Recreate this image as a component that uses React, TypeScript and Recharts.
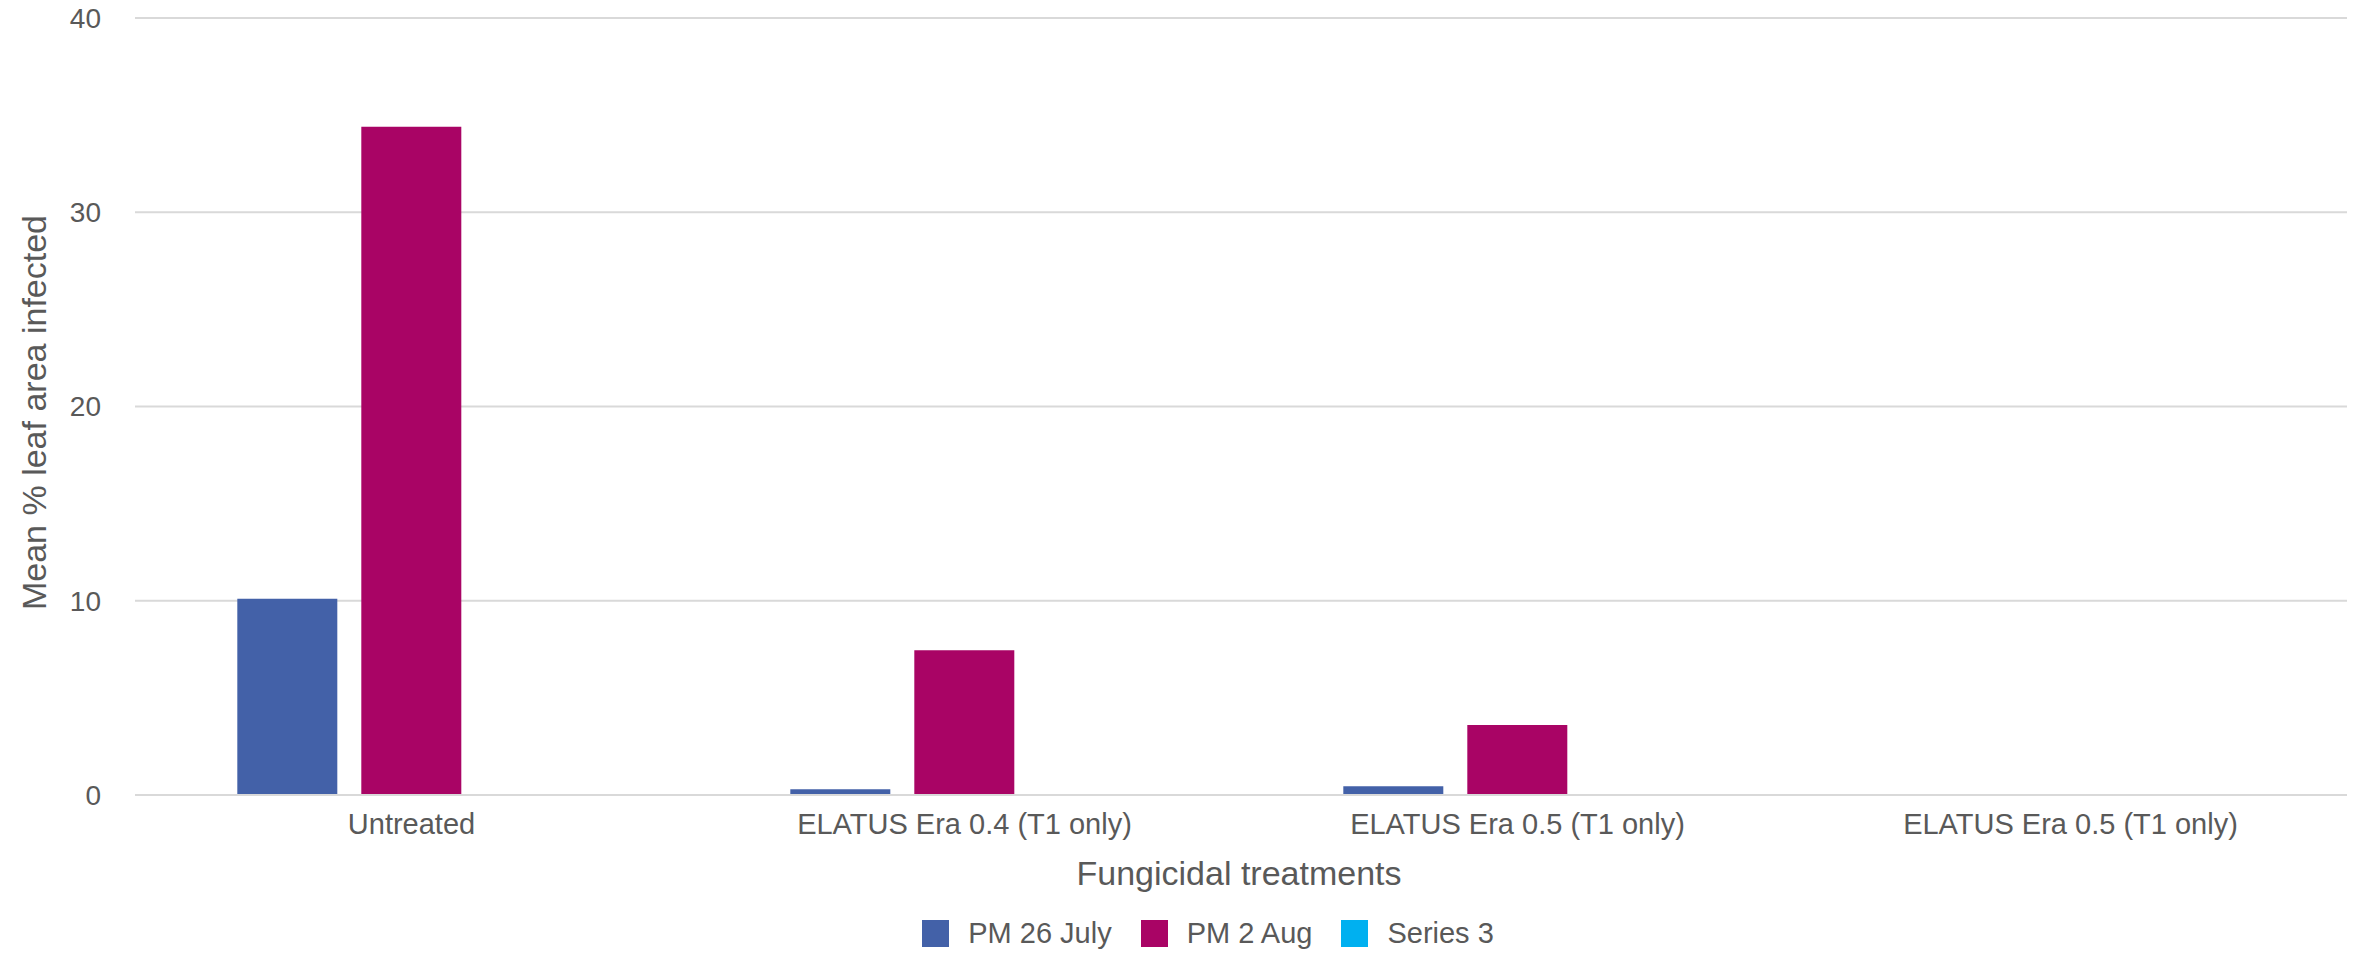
import {
  BarChart,
  Bar,
  XAxis,
  YAxis,
  CartesianGrid,
  Legend,
  Label,
} from "recharts";

const categories = [
  "Untreated",
  "ELATUS Era 0.4 (T1 only)",
  "ELATUS Era 0.5 (T1 only)",
  "ELATUS Era 0.5 (T1 only)",
];
const pm26July = [10.1, 0.3, 0.45, null];
const pm2Aug = [34.4, 7.45, 3.6, null];
const series3 = [null, null, null, null];
const yTicks = [0, 10, 20, 30, 40];

const seriesInfo = [
  { key: "pm26", name: "PM 26 July", color: "#4361A8" },
  { key: "pm2", name: "PM 2 Aug", color: "#A90465" },
  { key: "s3", name: "Series 3", color: "#00B0F0" },
];

const data = categories.map((c, i) => ({
  name: c,
  pm26: pm26July[i],
  pm2: pm2Aug[i],
  s3: series3[i],
}));

const FONT = "'Liberation Sans', Arial, sans-serif";
const TEXT = "#595959";
const GRID = "#D9D9D9";

// custom legend so spacing matches the source
const renderLegend = () => (
  <div
    style={{
      display: "flex",
      justifyContent: "center",
      alignItems: "center",
      height: 27,
      paddingLeft: 55,
      fontFamily: FONT,
      fontSize: 29,
      color: TEXT,
    }}
  >
    {seriesInfo.map((s, i) => (
      <div
        key={s.key}
        style={{
          display: "flex",
          alignItems: "center",
          marginRight: i < seriesInfo.length - 1 ? 29 : 0,
        }}
      >
        <span
          style={{
            display: "inline-block",
            width: 27,
            height: 27,
            background: s.color,
            marginRight: 19,
          }}
        />
        <span style={{ lineHeight: "27px" }}>{s.name}</span>
      </div>
    ))}
  </div>
);

export default function App() {
  return (
    <div style={{ position: "absolute", left: 0, top: 0, background: "#fff" }}>
      <BarChart
        width={2361}
        height={953}
        data={data}
        margin={{ top: 18, right: 14, bottom: 6, left: 0 }}
        barCategoryGap="18.5%"
        barGap={24}
      >
        <CartesianGrid stroke={GRID} strokeWidth={2} vertical={false} />
        <XAxis
          dataKey="name"
          height={125}
          axisLine={{ stroke: GRID, strokeWidth: 2 }}
          tickLine={false}
          tickSize={0}
          tickMargin={18}
          tick={{ fill: TEXT, fontSize: 29, fontFamily: FONT }}
          interval={0}
        >
          <Label
            content={(props: any) => {
              const vb = props.viewBox || {};
              return (
                <text
                  x={vb.x + vb.width / 2 - 2}
                  y={vb.y + 90}
                  textAnchor="middle"
                  fill={TEXT}
                  fontSize={34}
                  fontFamily={FONT}
                >
                  Fungicidal treatments
                </text>
              );
            }}
          />
        </XAxis>
        <YAxis
          width={135}
          domain={[0, 40]}
          ticks={yTicks}
          axisLine={false}
          tickLine={false}
          tickSize={0}
          tickMargin={34}
          tick={{ fill: TEXT, fontSize: 28, fontFamily: FONT }}
        >
          <Label
            content={(props: any) => {
              const vb = props.viewBox || {};
              const cx = 46;
              const cy = vb.y + vb.height / 2 + 6;
              return (
                <text
                  x={cx}
                  y={cy}
                  transform={`rotate(-90, ${cx}, ${cy})`}
                  textAnchor="middle"
                  fill={TEXT}
                  fontSize={34}
                  fontFamily={FONT}
                >
                  Mean % leaf area infected
                </text>
              );
            }}
          />
        </YAxis>
        <Legend
          verticalAlign="bottom"
          content={renderLegend}
          wrapperStyle={{ left: 0, width: 2361, bottom: 6 }}
        />
        {seriesInfo.map((s) => (
          <Bar
            key={s.key}
            dataKey={s.key}
            name={s.name}
            fill={s.color}
            isAnimationActive={false}
          />
        ))}
      </BarChart>
    </div>
  );
}
